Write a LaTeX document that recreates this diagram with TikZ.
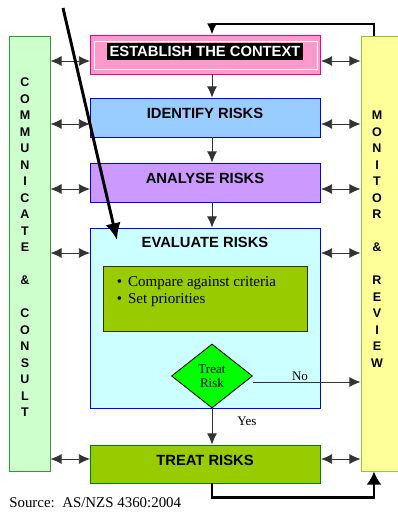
\documentclass[tikz,border=0pt]{standalone}
\usepackage{fontspec}
\setmainfont{Liberation Serif}
\setsansfont{Liberation Sans}
\usetikzlibrary{arrows.meta,shapes.geometric}

\definecolor{estfill}{RGB}{255,153,204}
\definecolor{idefill}{RGB}{153,204,255}
\definecolor{anafill}{RGB}{204,153,255}
\definecolor{evafill}{RGB}{204,255,255}
\definecolor{treatfill}{RGB}{153,204,0}
\definecolor{treatline}{RGB}{0,128,0}
\definecolor{critline}{RGB}{51,51,0}
\definecolor{decfill}{RGB}{0,255,0}
\definecolor{commfill}{RGB}{204,255,204}
\definecolor{commline}{RGB}{51,153,51}
\definecolor{monfill}{RGB}{255,255,153}
\definecolor{monline}{RGB}{140,200,60}

\begin{document}
\begin{tikzpicture}[x=0.025cm,y=-0.025cm,>={Latex[length=0.28cm,width=0.25cm]},
    every node/.style={inner sep=0pt},
    box/.style={draw=blue,line width=0.6pt,minimum width=5.75cm,minimum height=0.975cm},
    title/.style={font=\sffamily\bfseries\fontsize{10.5}{12}\selectfont},
    letters/.style={align=center,font=\sffamily\bfseries\fontsize{8.9}{11.74}\selectfont},
    small/.style={font=\fontsize{9.3}{10}\selectfont},
    dbl/.style={<->,line width=0.6pt,black!80},
    flow/.style={->,line width=0.6pt,black!80},
    loopline/.style={->,line width=1.4pt}]
    \useasboundingbox (0,0) rectangle (398,512);

    % side columns
    \node[draw=commline,fill=commfill,line width=0.6pt,minimum width=1.025cm,minimum height=10.875cm] (comm) at (29.5,253.5) {};
    \node[draw=monline,fill=monfill,line width=0.6pt,minimum width=1.0cm,minimum height=10.875cm] (mon) at (381,253.5) {};
    \node[letters] (commt) at (25,247.5) {C\\O\\M\\M\\U\\N\\I\\C\\A\\T\\E\\[11.74pt]\&\\[11.74pt]C\\O\\N\\S\\U\\L\\T};
    \node[letters] (mont) at (377,239) {M\\O\\N\\I\\T\\O\\R\\[11.74pt]\&\\[11.74pt]R\\E\\V\\I\\E\\W};

    % process steps
    \node[box,draw=magenta,fill=estfill] (est) at (205.5,54.5) {};
    \node[draw=white,line width=0.6pt,minimum width=5.575cm,minimum height=0.7cm] (estin) at (205.5,55) {};
    \node[title,fill=black,text=white,inner xsep=2pt,inner ysep=2.2pt] (estt) at (205,51.3) {ESTABLISH THE CONTEXT};

    \node[box,fill=idefill] (ide) at (205.5,117.5) {};
    \node[title] (idet) at (205,113) {IDENTIFY RISKS};

    \node[box,fill=anafill] (ana) at (205.5,182.5) {};
    \node[title] (anat) at (205,178) {ANALYSE RISKS};

    \node[box,fill=evafill,minimum height=4.5cm] (eva) at (205.5,318) {};
    \node[title] (evat) at (205,242) {EVALUATE RISKS};
    \node[draw=critline,fill=treatfill,line width=0.6pt,minimum width=5.1cm,minimum height=1.625cm] (crit) at (205,298.5) {};
    \node[anchor=north west,align=left,font=\fontsize{10.7}{12.1}\selectfont] (critt) at (116.5,276) {\textbullet\hspace{4.3pt}Compare against criteria\\\textbullet\hspace{4.3pt}Set priorities};
    \node[diamond,draw,fill=decfill,line width=0.6pt,minimum width=2.025cm,minimum height=1.6cm,align=center,small] (dec) at (212,376) {Treat\\Risk};

    \node[box,draw=treatline,fill=treatfill,minimum height=0.95cm] (treat) at (205.5,464) {};
    \node[title] (treatt) at (205,460) {TREAT RISKS};

    \node[small] (no) at (300,376) {No};
    \node[small] (yes) at (247,421) {Yes};
    \node[anchor=west,font=\fontsize{10.6}{12}\selectfont] (src) at (9,503) {Source:\ \ AS/NZS 4360:2004};

    % flow down
    \draw[flow] (est.south -| dec) -- (ide.north -| dec);
    \draw[flow] (ide.south -| dec) -- (ana.north -| dec);
    \draw[flow] (ana.south -| dec) -- (eva.north -| dec);
    \draw[flow] (dec.south) -- (treat.north -| dec);
    \draw[flow] (dec.east |- 0,382) -- (mon.west |- 0,382);

    % communicate and monitor links
    \draw[dbl] (comm.east |- 0,61) -- (est.west |- 0,61);
    \draw[dbl] (comm.east |- 0,124) -- (ide.west |- 0,124);
    \draw[dbl] (comm.east |- 0,189) -- (ana.west |- 0,189);
    \draw[dbl] (comm.east |- 0,253) -- (eva.west |- 0,253);
    \draw[dbl] (comm.east |- 0,459) -- (treat.west |- 0,459);
    \draw[dbl] (est.east |- 0,61) -- (mon.west |- 0,61);
    \draw[dbl] (ide.east |- 0,124) -- (mon.west |- 0,124);
    \draw[dbl] (ana.east |- 0,189) -- (mon.west |- 0,189);
    \draw[dbl] (eva.east |- 0,253) -- (mon.west |- 0,253);
    \draw[dbl] (treat.east |- 0,459) -- (mon.west |- 0,459);

    % feedback loops
    \draw[loopline] ([xshift=-0.175cm]mon.north) -- ++(0,-12) -| (est.north -| dec);
    \draw[loopline,line width=2pt,-{Latex[length=0.33cm,width=0.38cm]}] (treat.south -| dec) -- ++(0,14) -| ([xshift=-0.175cm]mon.south);

    % pointer
    \coordinate (pen) at (63,8);
    \coordinate (pentip) at (117,240);
    \draw[line width=2.1pt,-{Latex[length=0.42cm,width=0.38cm]}] (pen) -- (pentip);
\end{tikzpicture}
\end{document}
